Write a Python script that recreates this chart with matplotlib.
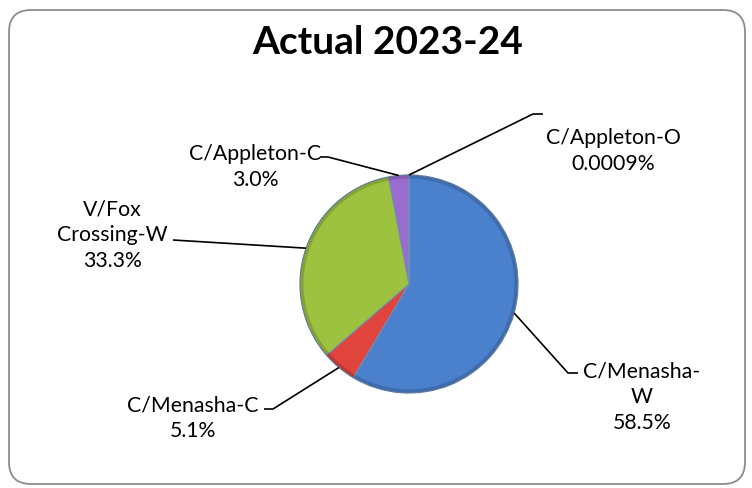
import numpy as np
import matplotlib.pyplot as plt
from matplotlib.patches import FancyBboxPatch, Circle

# Datos del gráfico
labels = ['C/Menasha-\nW', 'C/Menasha-C', 'V/Fox\nCrossing-W', 'C/Appleton-C', 'C/Appleton-O']
pct = [58.5, 5.1, 33.3, 3.0, 0.0009]
pct_text = ['58.5%', '5.1%', '33.3%', '3.0%', '0.0009%']
colors = ['#4a80cc', '#e0443c', '#9cc23f', '#9a6ccf', '#c8a8e8']
title = 'Actual 2023-24'

W, H = 752, 488
fig = plt.figure(figsize=(W / 100, H / 100), dpi=100)
ax = fig.add_axes([0, 0, 1, 1])

# Marco redondeado
frame = FancyBboxPatch((9, 4), 736, 474, boxstyle='round,pad=0,rounding_size=22',
                       fc='white', ec='#8c8c8c', lw=1.3, zorder=0)
ax.add_patch(frame)

cx, cy, r = 409, H - 284, 109
wedges, _ = ax.pie(pct, colors=colors, startangle=90, counterclock=False,
                   center=(cx, cy), radius=r, frame=True,
                   wedgeprops=dict(lw=0.8, ec='#6f8fb5'))
ax.set_xlim(0, W)
ax.set_ylim(0, H)
ax.set_aspect('equal')
ax.axis('off')
# borde oscuro suave del pastel
ax.add_patch(Circle((cx, cy), r - 1.5, fc='none', ec='black', lw=3, alpha=0.15))

ax.text(388, H - 42, title, ha='center', va='center', fontsize=28,
        fontweight='bold', family='Lato')

# Posición de cada etiqueta (centro del texto) y codo de la línea guía
text_pos = [(642, H - 397), (193, H - 418), (112, H - 235), (255, H - 167), (613, H - 151)]
elbow = [(568, H - 373), (273, H - 409), (173, H - 240), (328, H - 157), (533, H - 114)]
tail = [(578, H - 373), (264, H - 409), (173, H - 240), (320, H - 157), (543, H - 114)]

for w, lab, pt, tp, el, tl in zip(wedges, labels, pct_text, text_pos, elbow, tail):
    ang = np.deg2rad((w.theta1 + w.theta2) / 2)
    ex, ey = cx + r * np.cos(ang), cy + r * np.sin(ang)
    ax.plot([ex, el[0], tl[0]], [ey, el[1], tl[1]], color='black', lw=1.2,
            zorder=5, solid_capstyle='butt')
    ax.text(tp[0], tp[1], lab + '\n' + pt, ha='center', va='center',
            fontsize=15.3, family='Lato', linespacing=1.35)

fig.savefig('out.png', dpi=100)
